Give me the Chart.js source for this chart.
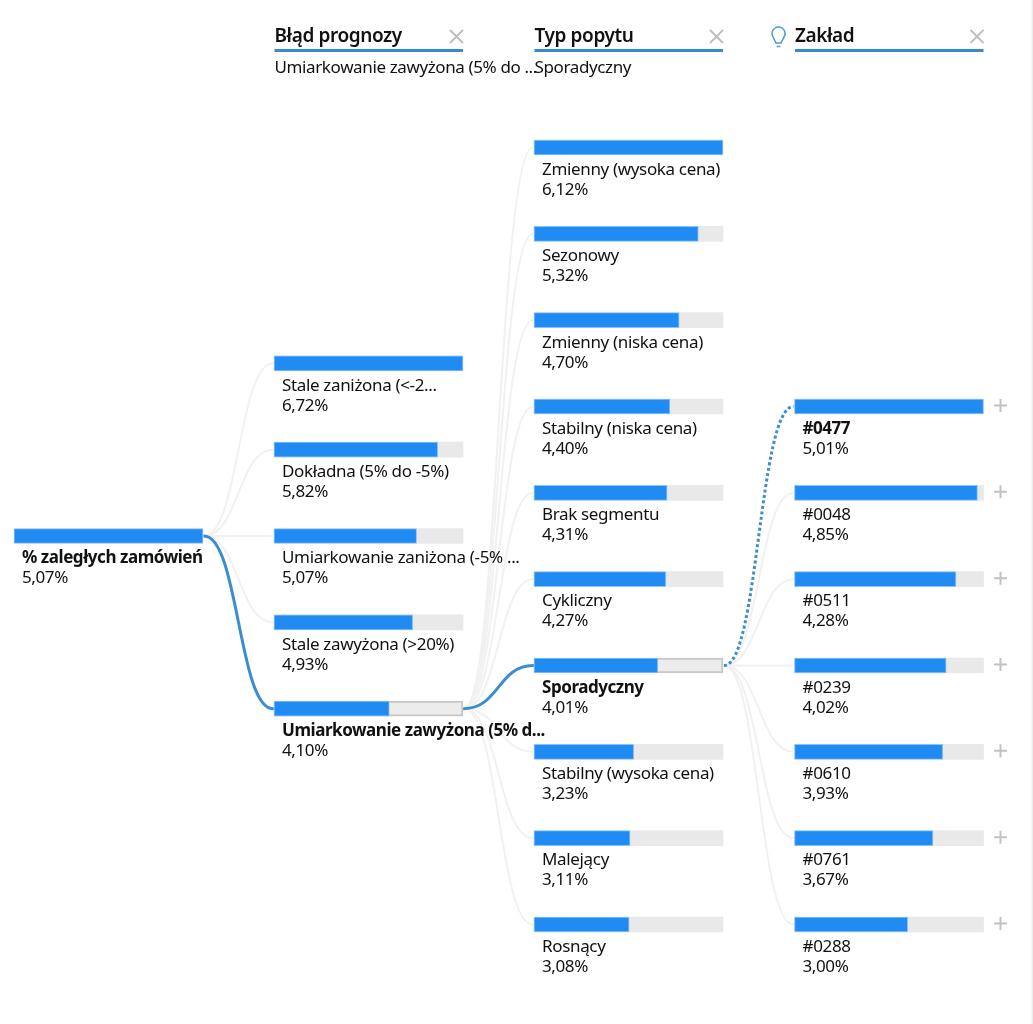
<!DOCTYPE html>
<html lang="pl"><head><meta charset="utf-8">
<style>html,body{margin:0;padding:0;background:#fff}#w{position:relative;width:1033px;height:1024px}</style>
<script src="https://cdn.jsdelivr.net/npm/chart.js@4"></script></head>
<body><div id="w"><canvas id="c" width="1033" height="1024"></canvas></div>
<script>
const rootNames = ['% zaległych zamówień'];
const rootValues = [5.07];
const forecastNames = ['Stale zaniżona (<-2...','Dokładna (5% do -5%)','Umiarkowanie zaniżona (-5% ...','Stale zawyżona (>20%)','Umiarkowanie zawyżona (5% d...'];
const forecastValues = [6.72,5.82,5.07,4.93,4.10];
const demandNames = ['Zmienny (wysoka cena)','Sezonowy','Zmienny (niska cena)','Stabilny (niska cena)','Brak segmentu','Cykliczny','Sporadyczny','Stabilny (wysoka cena)','Malejący','Rosnący'];
const demandValues = [6.12,5.32,4.70,4.40,4.31,4.27,4.01,3.23,3.11,3.08];
const plantNames = ['#0477','#0048','#0511','#0239','#0610','#0761','#0288'];
const plantValues = [5.01,4.85,4.28,4.02,3.93,3.67,3.00];
const headerTitles = ['Błąd prognozy','Typ popytu','Zakład'];
const headerPicks = ['Umiarkowanie zawyżona (5% do ...','Sporadyczny',''];

const W=1033,H=1024,FONT='"Noto Sans"';
const colLeft=[14,274,534,794.5],colW=189,firstRowPx=147.5,rowPx=86.33;
const cols=[
 {names:rootNames,vals:rootValues,start:4.5,sel:0},
 {names:forecastNames,vals:forecastValues,start:2.5,sel:4},
 {names:demandNames,vals:demandValues,start:0,sel:6},
 {names:plantNames,vals:plantValues,start:3,sel:0}
];
const fmt=v=>v.toFixed(2).replace('.',',')+'%';
const datasets=[],scales={
 y:{type:'linear',display:false,offset:false,reverse:true,min:-firstRowPx/rowPx,max:(H-firstRowPx)/rowPx}
};
cols.forEach((c,i)=>{
 const full=Math.max(...c.vals),id='x'+i,perPx=full/colW;
 scales[id]={type:'linear',display:false,axis:'x',position:'top',min:-colLeft[i]*perPx,max:(W-colLeft[i])*perPx};
 const pts=c.vals.map((v,k)=>({x:v,y:c.start+k}));
 datasets.push({label:'wartość '+i,data:pts,xAxisID:id,yAxisID:'y',order:1,grouped:false,barThickness:15,
   backgroundColor:'#1f8bf3',borderColor:'#8cc4f7',borderWidth:1,borderSkipped:false});
 datasets.push({label:'tło '+i,data:pts.map(p=>({x:full,y:p.y})),xAxisID:id,yAxisID:'y',order:2,grouped:false,barThickness:15,
   backgroundColor:(ctx)=>(i>0&&i<3&&ctx.dataIndex===c.sel)?'#ececec':'#e9e9e9',
   borderColor:(ctx)=>(i>0&&i<3&&ctx.dataIndex===c.sel)?'#c6c6c6':'#e9e9e9',
   borderWidth:(ctx)=>(i>0&&i<3&&ctx.dataIndex===c.sel)?2:0,borderSkipped:false});
});
const linksPlugin={id:'links',
 beforeDatasetsDraw(ch){
  const g=ch.ctx;
  g.fillStyle='#ececec';g.fillRect(W-1.5,0,1.5,H);
  const bar=(col,k)=>ch.getDatasetMeta(col*2+1).data[k];
  const curve=(a,b,color,w,dash)=>{
   const x1=a.x+1,y1=a.y,x2=b.base-1,y2=b.y,m=(x1+x2)/2;
   g.save();g.strokeStyle=color;g.lineWidth=w;g.setLineDash(dash||[]);g.lineCap=dash?'butt':'round';
   g.beginPath();g.moveTo(x1,y1);g.bezierCurveTo(m,y1,m,y2,x2,y2);g.stroke();g.restore();
  };
  const LIGHT='#f1f1f1';
  for(let i=0;i<3;i++){
   const c=cols[i],n=cols[i+1],from=bar(i,c.sel);
   n.vals.forEach((v,k)=>{ if(k!==n.sel) curve(from,bar(i+1,k),LIGHT,2); });
   if(i<2) curve(from,bar(i+1,n.sel),'#3a8dcf',3);
   else curve(from,bar(i+1,n.sel),'#3a8dcf',3,[3,2.5]);
  }
 },
 afterDatasetsDraw(ch){
  const g=ch.ctx;g.save();
  g.textBaseline='middle';g.textAlign='left';
  cols.forEach((c,i)=>{
   const meta=ch.getDatasetMeta(i*2+1);
   c.vals.forEach((v,k)=>{
    const b=meta.data[k];
    g.fillStyle='#111';
    g.letterSpacing=k===c.sel?'-0.45px':'-0.34px';
    g.font=(k===c.sel?'bold ':'')+'17px '+FONT;
    g.fillText(c.names[k],b.base+8,b.y+22.5);
    g.letterSpacing='-0.38px';
    g.font='17px '+FONT;
    g.fillText(fmt(v),b.base+8,b.y+42.5);
   });
  });
  // headers
  for(let i=1;i<4;i++){
   const x=colLeft[i]+0.5,t=headerTitles[i-1];
   g.fillStyle='#111';g.font='600 19px '+FONT;g.letterSpacing='-0.4px';
   g.fillText(t,x,37);
   g.fillStyle='#3a8ad2';g.fillRect(x,49,188.5,3);
   g.strokeStyle='#bdbdbd';g.lineWidth=1.8;
   const cx=x+182,cy=36.5,r=6.5;
   g.beginPath();g.moveTo(cx-r,cy-r);g.lineTo(cx+r,cy+r);g.moveTo(cx+r,cy-r);g.lineTo(cx-r,cy+r);g.stroke();
   if(headerPicks[i-1]){g.fillStyle='#111';g.font='17px '+FONT;g.letterSpacing='-0.38px';g.fillText(headerPicks[i-1],x,68.5);}
  }
  g.letterSpacing='0px';
  // bulb icon
  g.strokeStyle='#4a9bd6';g.lineWidth=1.5;
  g.beginPath();g.arc(778.5,33.5,6.5,Math.PI*0.8,Math.PI*0.2);g.lineTo(781,43);g.lineTo(776,43);g.closePath();g.stroke();
  g.beginPath();g.moveTo(776.5,46.5);g.lineTo(780.5,46.5);g.stroke();
  // plus icons
  const meta=ch.getDatasetMeta(7);
  g.strokeStyle='#c2c2c2';g.lineWidth=2;
  meta.data.forEach(b=>{const cx=1000.5,cy=b.y-1,r=6.5;
   g.beginPath();g.moveTo(cx-r,cy);g.lineTo(cx+r,cy);g.moveTo(cx,cy-r);g.lineTo(cx,cy+r);g.stroke();});
  g.restore();
 }};
new Chart(document.getElementById('c'),{type:'bar',data:{datasets},plugins:[linksPlugin],
 options:{indexAxis:'y',responsive:false,animation:false,events:[],layout:{padding:0},
  plugins:{legend:{display:false},title:{display:false},tooltip:{enabled:false}},scales}});
</script></body></html>
